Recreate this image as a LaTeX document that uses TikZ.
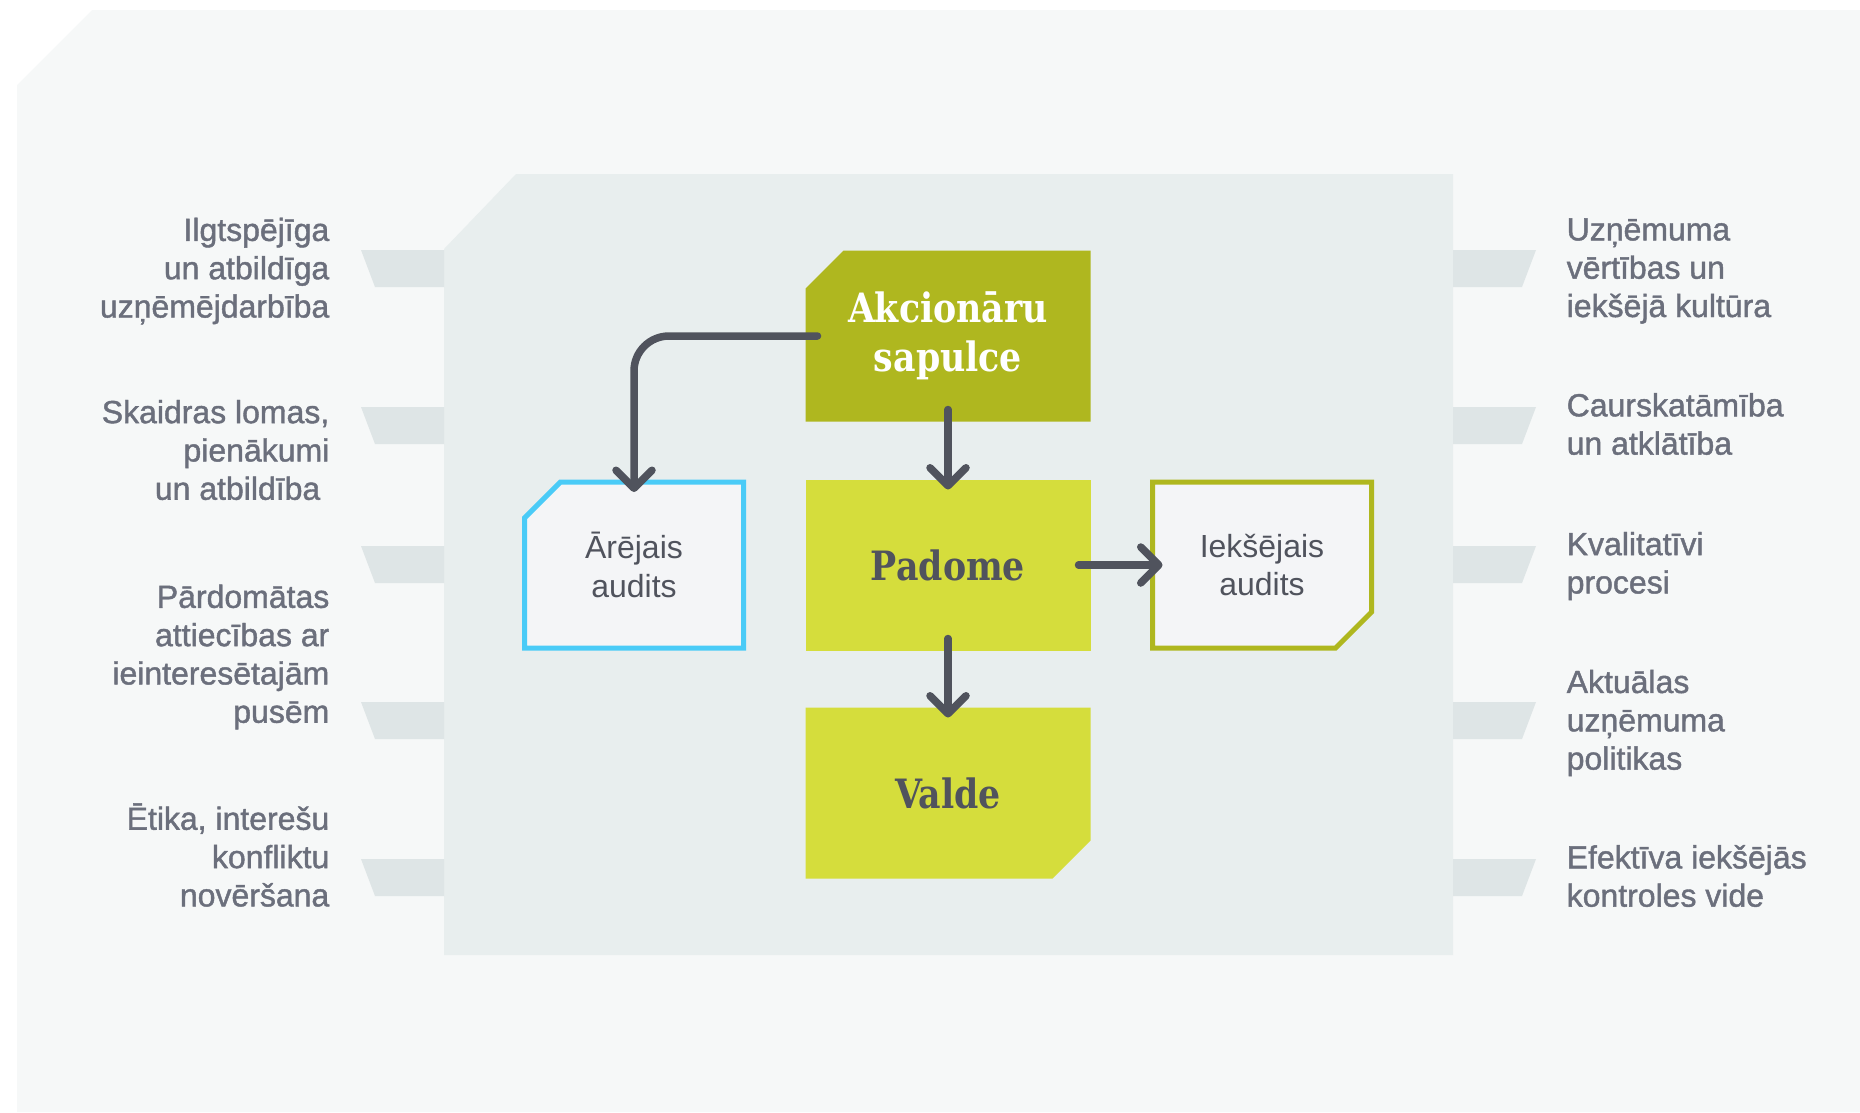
\documentclass[tikz,border=0pt]{standalone}
\usepackage{fontspec}
\setmainfont{Liberation Sans}
\newfontfamily\labelfont[FakeBold=1.3]{Liberation Sans}
\newfontfamily\slabfont[FakeStretch=0.86]{DejaVu Serif}
\usepackage{tikz}
\usetikzlibrary{arrows.meta, positioning, calc}
\pgfdeclarelayer{bg}
\pgfsetlayers{bg,main}
\definecolor{govouter}{HTML}{F6F8F8}
\definecolor{govpanel}{HTML}{E8EEEE}
\definecolor{govtab}{HTML}{DEE5E6}
\definecolor{govolive}{HTML}{AFB71F}
\definecolor{govlime}{HTML}{D5DD3C}
\definecolor{govblue}{HTML}{4ACBF7}
\definecolor{govwhite}{HTML}{F4F5F7}
\definecolor{govdark}{HTML}{50535D}
\definecolor{govgray}{HTML}{6B6F7C}

\begin{document}
\begin{tikzpicture}[x=0.1mm, y=-0.1mm,
    sidelabel/.style={text=govgray, font=\labelfont\fontsize{9.1}{10.9}\selectfont, inner sep=0pt},
    leftlabel/.style={sidelabel, anchor=east, align=right},
    rightlabel/.style={sidelabel, anchor=west, align=left},
    bodybox/.style={minimum width=28.5mm, minimum height=17.1mm, inner sep=0pt, outer sep=0pt, text=govdark, font=\slabfont\bfseries\fontsize{11.5}{13.9}\selectfont, align=center},
    auditbox/.style={minimum width=21.9mm, minimum height=16.6mm, inner sep=0pt, outer sep=0pt, text=govdark, font=\fontsize{9.1}{10.9}\selectfont, align=center},
    auditline/.style={fill=govwhite, line width=0.5mm},
    flow/.style={draw=govdark, line width=0.75mm, line cap=round, -{Straight Barb[length=1.8mm, width=3.6mm, line cap=round, line join=round]}, shorten <=-1.2mm, shorten >=-1mm}
]
    \useasboundingbox (0,0) rectangle (1860,1112);

    % Left labels
    \node[leftlabel] (lab1) at (330,271) {Ilgtspējīga\\un atbildīga\\uzņēmējdarbība};
    \node[leftlabel] (lab2) at (330,450) {Skaidras lomas,\\pienākumi\hspace*{0.9mm}\\un atbildība\hspace*{0.9mm}};
    \node[leftlabel] (lab3) at (330,657) {Pārdomātas\\attiecības ar\\ieinteresētajām\\pusēm};
    \node[leftlabel] (lab4) at (330,855) {Ētika, interešu\\konfliktu\\novēršana};

    % Right labels
    \node[rightlabel] (rab1) at (1566,271) {Uzņēmuma\\vērtības un\\iekšējā kultūra};
    \node[rightlabel] (rab2) at (1566,424) {Caurskatāmība\\un atklātība};
    \node[rightlabel] (rab3) at (1566,566) {Kvalitatīvi\\procesi};
    \node[rightlabel] (rab4) at (1566,723) {Aktuālas\\uzņēmuma\\politikas};
    \node[rightlabel] (rab5) at (1566,876) {Efektīva iekšējās\\kontroles vide};

    % Boxes
    \node[bodybox, text=white] (akc) at (948,336) {Akcionāru\\sapulce};
    \node[bodybox] (padome) at (948,565) {Padome};
    \node[bodybox] (valde) at (948,793) {Valde};
    \node[auditbox] (arejais) at (634,565) {Ārējais\\audits};
    \node[auditbox] (ieksejais) at (1262,565) {Iekšējais\\audits};

    \begin{pgfonlayer}{bg}
        % background and panel
        \fill[govouter] (17,85) -- (92,10) -- (1860,10) -- (1860,1112) -- (17,1112) -- cycle;
        \fill[govpanel] (444,249) -- (516,174) -- (1453,174) -- (1453,955) -- (444,955) -- cycle;
        \foreach \y in {250,407,546,702,859} {
            \fill[govtab] (361,\y) -- (444,\y) -- (444,\y+37) -- (375,\y+37) -- cycle;
            \fill[govtab] (1453,\y) -- (1536,\y) -- (1522,\y+37) -- (1453,\y+37) -- cycle;
        }
        % box shapes
        \fill[govolive] ([yshift=-3.8mm]akc.north west) -- ([xshift=3.8mm]akc.north west) -- (akc.north east) -- (akc.south east) -- (akc.south west) -- cycle;
        \fill[govlime] (padome.north west) rectangle (padome.south east);
        \fill[govlime] (valde.north west) -- (valde.north east) -- ([yshift=3.8mm]valde.south east) -- ([xshift=-3.8mm]valde.south east) -- (valde.south west) -- cycle;
        \filldraw[auditline, draw=govblue] ([yshift=-3.6mm]arejais.north west) -- ([xshift=3.6mm]arejais.north west) -- (arejais.north east) -- (arejais.south east) -- (arejais.south west) -- cycle;
        \filldraw[auditline, draw=govolive] (ieksejais.north west) -- (ieksejais.north east) -- ([yshift=3.6mm]ieksejais.south east) -- ([xshift=-3.6mm]ieksejais.south east) -- (ieksejais.south west) -- cycle;
    \end{pgfonlayer}

    % Arrows
    \draw[flow, rounded corners=3.5mm] (akc.west) -| (arejais.north);
    \draw[flow] (akc.south) -- (padome.north);
    \draw[flow] (padome.east) -- (ieksejais.west);
    \draw[flow] (padome.south) -- (valde.north);
\end{tikzpicture}
\end{document}
